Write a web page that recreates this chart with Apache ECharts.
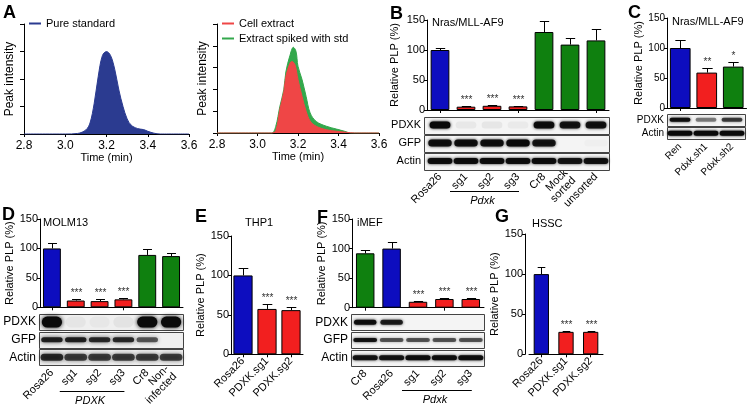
<!DOCTYPE html>
<html><head><meta charset="utf-8">
<script src="https://cdn.jsdelivr.net/npm/echarts@6/dist/echarts.min.js"></script>
<style>html,body{margin:0;padding:0;background:#fff}#c{width:750px;height:411px}</style>
</head><body><div id="c"></div>
<script>
// ================= DATA =================
// Panel A – chromatograms (time in min, intensity in arbitrary units)
const stdTime        = [2.80, 3.00, 3.06, 3.10, 3.12, 3.14, 3.16, 3.18, 3.20, 3.22, 3.24, 3.26, 3.28, 3.30, 3.32, 3.35, 3.38, 3.40, 3.43, 3.46, 3.60];
const stdIntensity   = [0,    0,    0.02, 0.15, 0.40, 1.10, 2.10, 2.85, 3.00, 2.85, 2.35, 1.60, 1.00, 0.55, 0.32, 0.20, 0.16, 0.10, 0.03, 0,    0];
const cellTime       = [2.80, 3.00, 3.07, 3.09, 3.11, 3.13, 3.14, 3.16, 3.17, 3.185, 3.20, 3.22, 3.24, 3.26, 3.29, 3.34, 3.39, 3.44, 3.48, 3.60];
const cellIntensity  = [0,    0,    0,    0.10, 1.07, 1.90, 2.60, 3.20, 3.28, 3.13,  2.45, 1.68, 1.00, 0.55, 0.31, 0.15, 0.08, 0.03, 0,    0];
const spikeTime      = [2.80, 3.00, 3.07, 3.09, 3.11, 3.13, 3.14, 3.16, 3.177, 3.19, 3.20, 3.22, 3.24, 3.26, 3.29, 3.34, 3.39, 3.43, 3.46, 3.60];
const spikeIntensity = [0,    0,    0,    0.30, 1.20, 2.00, 2.80, 3.55, 3.93,  3.75, 3.06, 2.45, 1.68, 0.92, 0.53, 0.31, 0.18, 0.08, 0,    0];

// Panel B – Nras/MLL-AF9
const bCategories = ['Rosa26', 'sg1', 'sg2', 'sg3', 'Cr8', 'Mock\nsorted', 'unsorted'];
const bGroups     = ['ctrl', 'ko', 'ko', 'ko', 'other', 'other', 'other'];
const bMeans      = [100, 5.5, 7, 6, 130, 109, 116];
const bErrors     = [4, 0.8, 0.8, 0.8, 19, 11, 19];
const bStars      = ['', '***', '***', '***', '', '', ''];
const bBlotRows   = ['PDXK', 'GFP', 'Actin'];
const bBlotPdxk   = [1.0, 0.05, 0.06, 0.04, 0.95, 0.9, 0.92];
const bBlotGfp    = [0.95, 0.95, 0.95, 1.0, 0.9, 0.0, 0.02];
const bBlotActin  = [0.95, 0.95, 0.95, 0.95, 0.95, 0.9, 0.92];

// Panel C – Nras/MLL-AF9 shRNA
const cCategories = ['Ren', 'Pdxk.sh1', 'Pdxk.sh2'];
const cGroups     = ['ctrl', 'ko', 'other'];
const cMeans      = [100, 59, 69];
const cErrors     = [14, 7, 7];
const cStars      = ['', '**', '*'];
const cBlotRows   = ['PDXK', 'Actin'];
const cBlotPdxk   = [0.95, 0.45, 0.7];
const cBlotActin  = [1.0, 1.0, 1.0];

// Panel D – MOLM13
const dCategories = ['Rosa26', 'sg1', 'sg2', 'sg3', 'Cr8', 'Non-\ninfected'];
const dGroups     = ['ctrl', 'ko', 'ko', 'ko', 'other', 'other'];
const dMeans      = [100, 11.5, 10.5, 13.5, 89, 87];
const dErrors     = [10, 2.5, 3, 1.5, 9.5, 5];
const dStars      = ['', '***', '***', '***', '', ''];
const dBlotRows   = ['PDXK', 'GFP', 'Actin'];
const dBlotPdxk   = [1.0, 0.04, 0.03, 0.05, 1.0, 1.0];
const dBlotGfp    = [0.85, 0.85, 0.8, 0.8, 0.6, 0.0];
const dBlotActin  = [0.8, 0.7, 0.7, 0.7, 0.7, 0.7];

// Panel E – THP1
const eCategories = ['Rosa26', 'PDXK.sg1', 'PDXK.sg2'];
const eGroups     = ['ctrl', 'ko', 'ko'];
const eMeans      = [100, 57.5, 56];
const eErrors     = [10, 6, 4];
const eStars      = ['', '***', '***'];

// Panel F – iMEF
const fCategories = ['Cr8', 'Rosa26', 'sg1', 'sg2', 'sg3'];
const fGroups     = ['other', 'ctrl', 'ko', 'ko', 'ko'];
const fMeans      = [92, 100, 10, 14.7, 14.7];
const fErrors     = [5.5, 10.5, 1, 1, 1.2];
const fStars      = ['', '', '***', '***', '***'];
const fBlotRows   = ['PDXK', 'GFP', 'Actin'];
const fBlotPdxk   = [0.95, 0.85, 0.0, 0.0, 0.0];
const fBlotGfp    = [0.9, 0.6, 0.6, 0.6, 0.6];
const fBlotActin  = [0.9, 0.9, 0.95, 0.95, 0.95];

// Panel G – HSSC
const gCategories = ['Rosa26', 'PDXK.sg1', 'PDXK.sg2'];
const gGroups     = ['ctrl', 'ko', 'ko'];
const gMeans      = [100, 28, 28];
const gErrors     = [8.5, 0.8, 1.5];
const gStars      = ['', '***', '***'];

// ================= STYLE / LAYOUT =================
const FONT = 'Liberation Sans, Arial, sans-serif';
const GROUP_COLORS = { ctrl: '#0d0dbf', ko: '#f21f1f', other: '#0f800f' };

const option = {
  animation: false,
  backgroundColor: '#fff',
  textStyle: { fontFamily: FONT, color: '#000' },
  title: [], legend: [], grid: [], xAxis: [], yAxis: [], series: []
};

function addGrid(box) { option.grid.push(Object.assign({ containLabel: false }, box)); return option.grid.length - 1; }

function errRender(stars, capFrac, barFrac, starSize) {
  return function (params, api) {
    const i = api.value(0);
    const base = api.coord([i, api.value(1)]);
    const top = api.coord([i, api.value(2)]);
    const bw = api.size([1, 0])[0] * barFrac;
    const half = bw * capFrac / 2;
    const x = Math.round(top[0]) + 0.5;
    const ty = Math.round(top[1]) + 0.5;
    const children = [
      { type: 'line', shape: { x1: x, y1: base[1], x2: x, y2: ty }, style: { stroke: '#000', lineWidth: 1 } },
      { type: 'line', shape: { x1: x - half, y1: ty, x2: x + half, y2: ty }, style: { stroke: '#000', lineWidth: 1 } }
    ];
    const s = stars[params.dataIndex];
    if (s) children.push({ type: 'text', x: x, y: ty - 1,
      style: { text: s, fontSize: starSize, fontFamily: FONT, fill: '#333', align: 'center', verticalAlign: 'bottom', textAlign: 'center', textVerticalAlign: 'bottom' } });
    return { type: 'group', children };
  };
}

function barPanel(p) {
  const gi = addGrid(p.box);
  const xi = option.xAxis.push({
    type: 'category', gridIndex: gi, data: p.cats,
    axisLine: { lineStyle: { color: '#000', width: 1 } },
    axisTick: { show: true, alignWithLabel: true, length: 3, lineStyle: { color: '#000' } },
    axisLabel: p.xLabels ? { show: true, rotate: 45, interval: 0, fontSize: p.catFont, color: '#000', margin: p.catMargin, fontFamily: FONT } : { show: false }
  }) - 1;
  const yi = option.yAxis.push({
    type: 'value', gridIndex: gi, min: 0, max: 150, interval: 50, offset: p.yOffset || 0,
    name: 'Relative PLP (%)', nameLocation: 'middle', nameGap: p.nameGap,
    nameTextStyle: { fontSize: 11, color: '#000', fontFamily: FONT },
    axisLine: { show: true, lineStyle: { color: '#000', width: 1 } },
    axisTick: { show: true, length: 3, lineStyle: { color: '#000' } },
    axisLabel: { fontSize: p.tickFont || 11, color: '#000', margin: 2, fontFamily: FONT },
    splitLine: { show: false }
  }) - 1;
  option.series.push({
    type: 'bar', xAxisIndex: xi, yAxisIndex: yi, barCategoryGap: p.gap, silent: true,
    itemStyle: { borderColor: '#000', borderWidth: 1 },
    data: p.means.map((v, i) => ({ value: v, itemStyle: { color: GROUP_COLORS[p.groups[i]] } }))
  });
  const barFrac = 1 - parseFloat(p.gap) / 100;
  option.series.push({
    type: 'custom', xAxisIndex: xi, yAxisIndex: yi, silent: true, z: 3,
    encode: { x: 0, y: [1, 2] },
    data: p.means.map((v, i) => [i, v, v + p.errs[i]]),
    renderItem: errRender(p.stars, p.capFrac || 0.5, barFrac, p.starSize || 10)
  });
  if (p.title) option.title.push({ text: p.title, left: p.title.left, top: p.title.top, padding: 0,
    textStyle: { fontSize: p.title.size || 11, fontWeight: 'normal', color: '#000', fontFamily: FONT } });
  return { gi, xi, yi };
}

function blotPanel(p) {
  const gi = addGrid(p.box);
  const xi = option.xAxis.push({
    type: 'category', gridIndex: gi, data: p.cats,
    axisLine: { show: false }, axisTick: { show: false },
    axisLabel: { show: true, rotate: 45, interval: 0, fontSize: p.catFont, color: '#000', margin: p.catMargin, fontFamily: FONT }
  }) - 1;
  const yi = option.yAxis.push({
    type: 'category', gridIndex: gi, data: p.rows, inverse: true,
    axisLine: { show: false }, axisTick: { show: false },
    axisLabel: { fontSize: p.rowFont, color: '#000', margin: p.rowMargin, fontFamily: FONT },
    splitLine: { show: false }
  }) - 1;
  const pad = p.pad || 0, gap = p.rowGap || 1.5;
  option.series.push({
    type: 'custom', xAxisIndex: xi, yAxisIndex: yi, silent: true, z: 1,
    encode: { x: 0, y: 1 },
    data: p.rows.map((r, k) => [0, k]),
    renderItem: function (params, api) {
      const cs = params.coordSys;
      const c = api.coord([0, api.value(1)]);
      const h = api.size([0, 1])[1];
      return { type: 'rect',
        shape: { x: Math.round(cs.x - pad) + 0.5, y: Math.round(c[1] - h / 2 + gap / 2) + 0.5, width: Math.round(cs.width + pad), height: Math.round(h - gap) },
        style: { fill: p.bg || '#f4f4f4', stroke: '#444', lineWidth: 1 } };
    }
  });
  const bands = [];
  p.lanes.forEach((row, k) => row.forEach((v, lane) => { if (v > 0) bands.push([lane, k, v]); }));
  option.series.push({
    type: 'custom', xAxisIndex: xi, yAxisIndex: yi, silent: true, z: 2,
    encode: { x: 0, y: 1 },
    data: bands,
    renderItem: function (params, api) {
      const lane = api.value(0), row = api.value(1), v = api.value(2);
      const c = api.coord([lane, row]);
      const lw = api.size([1, 0])[0];
      const w = lw * p.bandFrac[row];
      const h = p.bandH[row];
      const col = 'rgba(10,10,10,' + v + ')';
      return { type: 'rect',
        shape: { x: c[0] - w / 2, y: c[1] - h / 2 + (p.bandDy || 0), width: w, height: h, r: h / 2 },
        style: { fill: col, shadowBlur: p.blur || 3, shadowColor: col } };
    }
  });
  return { gi, xi, yi };
}

// ---------------- Panel A ----------------
function chromAxes(box, ymax) {
  const gi = addGrid(box);
  const xi = option.xAxis.push({
    type: 'value', gridIndex: gi, min: 2.8, max: 3.6, interval: 0.2,
    name: 'Time (min)', nameLocation: 'middle', nameGap: 17,
    nameTextStyle: { fontSize: 11, color: '#000', fontFamily: FONT },
    axisLine: { lineStyle: { color: '#000' } },
    axisTick: { show: true, length: 3, lineStyle: { color: '#000' } },
    axisLabel: { fontSize: 12, color: '#000', margin: 6, fontFamily: FONT, formatter: v => v.toFixed(1) },
    splitLine: { show: false }
  }) - 1;
  const yi = option.yAxis.push({
    type: 'value', gridIndex: gi, min: 0, max: ymax, interval: 1,
    name: 'Peak intensity', nameLocation: 'middle', nameGap: 8,
    nameTextStyle: { fontSize: 12, color: '#000', fontFamily: FONT },
    axisLine: { show: true, lineStyle: { color: '#000' } },
    axisTick: { show: true, length: 4, lineStyle: { color: '#000' } },
    axisLabel: { show: false }, splitLine: { show: false }
  }) - 1;
  return { xi, yi };
}
function chromSeries(name, ax, t, y, color) {
  option.series.push({
    name, type: 'line', xAxisIndex: ax.xi, yAxisIndex: ax.yi, showSymbol: false, smooth: 0.35, silent: true,
    color, lineStyle: { color, width: 1 }, areaStyle: { color, opacity: 1 },
    data: t.map((v, i) => [v, y[i]])
  });
}
const a1 = chromAxes({ left: 24, top: 24, width: 165, height: 110 }, 4);
chromSeries('Pure standard', a1, stdTime, stdIntensity, '#2b3b90');
const a2 = chromAxes({ left: 217, top: 24, width: 162, height: 109 }, 5);
chromSeries('Extract spiked with std', a2, spikeTime, spikeIntensity, '#33a84c');
chromSeries('Cell extract', a2, cellTime, cellIntensity, '#ef4646');
option.legend.push({ left: 29, top: 18, padding: 0, icon: 'rect', itemWidth: 12, itemHeight: 2,
  data: ['Pure standard'], textStyle: { fontSize: 11, color: '#000', fontFamily: FONT } });
option.legend.push({ left: 222, top: 18, padding: 0, orient: 'vertical', itemGap: 4, icon: 'rect', itemWidth: 12, itemHeight: 2,
  data: ['Cell extract', 'Extract spiked with std'], textStyle: { fontSize: 11, color: '#000', fontFamily: FONT } });

// ---------------- Panel B ----------------
barPanel({ cats: bCategories, groups: bGroups, means: bMeans, errs: bErrors, stars: bStars,
  box: { left: 427, top: 20, width: 182, height: 90 }, gap: '28%', nameGap: 27,
  title: Object.assign(new String('Nras/MLL-AF9'), { left: 432, top: 17 }) });
const bBlot = blotPanel({ cats: bCategories, rows: bBlotRows, lanes: [bBlotPdxk, bBlotGfp, bBlotActin],
  box: { left: 427, top: 116, width: 182, height: 54 }, pad: 3, rowGap: 1.5,
  bandH: [7, 7, 6], bandFrac: [0.8, 0.9, 0.95], catFont: 11, catMargin: 5, rowFont: 11, rowMargin: 6 });

// ---------------- Panel C ----------------
barPanel({ cats: cCategories, groups: cGroups, means: cMeans, errs: cErrors, stars: cStars,
  box: { left: 667, top: 18, width: 79.5, height: 90 }, gap: '22%', nameGap: 21, tickFont: 10,
  title: Object.assign(new String('Nras/MLL-AF9'), { left: 672, top: 16 }) });
blotPanel({ cats: cCategories, rows: cBlotRows, lanes: [cBlotPdxk, cBlotActin],
  box: { left: 667, top: 113, width: 78, height: 27 }, pad: 0, rowGap: 1.2,
  bandH: [4, 5], bandFrac: [0.8, 0.95], catFont: 10, catMargin: 5, rowFont: 10, rowMargin: 3 });

// ---------------- Panel D ----------------
barPanel({ cats: dCategories, groups: dGroups, means: dMeans, errs: dErrors, stars: dStars,
  box: { left: 40, top: 219, width: 143, height: 88.3 }, gap: '25%', nameGap: 21,
  title: Object.assign(new String('MOLM13'), { left: 43, top: 217 }) });
const dBlot = blotPanel({ cats: dCategories, rows: dBlotRows, lanes: [dBlotPdxk, dBlotGfp, dBlotActin],
  box: { left: 40, top: 313.3, width: 143, height: 52.7 }, pad: 1, rowGap: 1.5, bg: '#efefef',
  bandH: [11, 5, 7], bandFrac: [0.85, 0.9, 0.95], blur: 4, catFont: 11, catMargin: 5, rowFont: 12, rowMargin: 4 });

// ---------------- Panel E ----------------
barPanel({ cats: eCategories, groups: eGroups, means: eMeans, errs: eErrors, stars: eStars,
  box: { left: 231, top: 236, width: 72, height: 118.3 }, gap: '20%', nameGap: 25,
  xLabels: true, catFont: 11, catMargin: 5,
  title: Object.assign(new String('THP1'), { left: 245, top: 217 }) });

// ---------------- Panel F ----------------
barPanel({ cats: fCategories, groups: fGroups, means: fMeans, errs: fErrors, stars: fStars,
  box: { left: 352, top: 219, width: 132, height: 88.7 }, gap: '30%', nameGap: 21,
  title: Object.assign(new String('iMEF'), { left: 357, top: 217 }) });
const fBlot = blotPanel({ cats: fCategories, rows: fBlotRows, lanes: [fBlotPdxk, fBlotGfp, fBlotActin],
  box: { left: 352, top: 313.3, width: 132, height: 53.4 }, pad: 1, rowGap: 1.5,
  bandH: [5, 4, 5], bandFrac: [0.85, 0.9, 0.95], catFont: 11, catMargin: 5, rowFont: 12, rowMargin: 4 });

// ---------------- Panel G ----------------
barPanel({ cats: gCategories, groups: gGroups, means: gMeans, errs: gErrors, stars: gStars,
  box: { left: 529, top: 234, width: 74, height: 120.3 }, gap: '38%', nameGap: 25, yOffset: 4,
  xLabels: true, catFont: 11, catMargin: 5,
  title: Object.assign(new String('HSSC'), { left: 532, top: 218 }) });

// fix titles (String objects -> plain text)
option.title = option.title.map(t => Object.assign({}, t, { text: String(t.text) }));

// panel letters
[['A', 3, 4], ['B', 390, 5], ['C', 628, 4], ['D', 2, 206], ['E', 195, 208], ['F', 317, 209], ['G', 495, 208]].forEach(([L, x, y]) =>
  option.title.push({ text: L, left: x, top: y, padding: 0, textStyle: { fontSize: 18, fontWeight: 'bold', color: '#000', fontFamily: FONT } }));

const chart = echarts.init(document.getElementById('c'), null, { renderer: 'canvas', width: 750, height: 411 });
chart.setOption(option);

// group labels (underline + gene name) placed from axis positions
const groupMarks = [
  { xAxisIndex: bBlot.xi, from: 1, to: 3, lineY: 191.5, textY: 200.5, text: 'Pdxk' },
  { xAxisIndex: dBlot.xi, from: 1, to: 3, lineY: 391.5, textY: 400.5, text: 'PDXK' },
  { xAxisIndex: fBlot.xi, from: 2, to: 4, lineY: 390.5, textY: 399.5, text: 'Pdxk' }
];
const graphic = [];
groupMarks.forEach(g => {
  const x1 = chart.convertToPixel({ xAxisIndex: g.xAxisIndex }, g.from) - 16;
  const x2 = chart.convertToPixel({ xAxisIndex: g.xAxisIndex }, g.to) + 1;
  graphic.push({ type: 'line', shape: { x1, y1: g.lineY, x2, y2: g.lineY }, style: { stroke: '#000', lineWidth: 1 }, silent: true });
  graphic.push({ type: 'text', x: (x1 + x2) / 2 - 2, y: g.textY, silent: true,
    style: { text: g.text, font: 'italic 11px ' + FONT, fill: '#000', align: 'center', verticalAlign: 'middle', textAlign: 'center', textVerticalAlign: 'middle' } });
});
chart.setOption({ graphic });
</script>
</body></html>
